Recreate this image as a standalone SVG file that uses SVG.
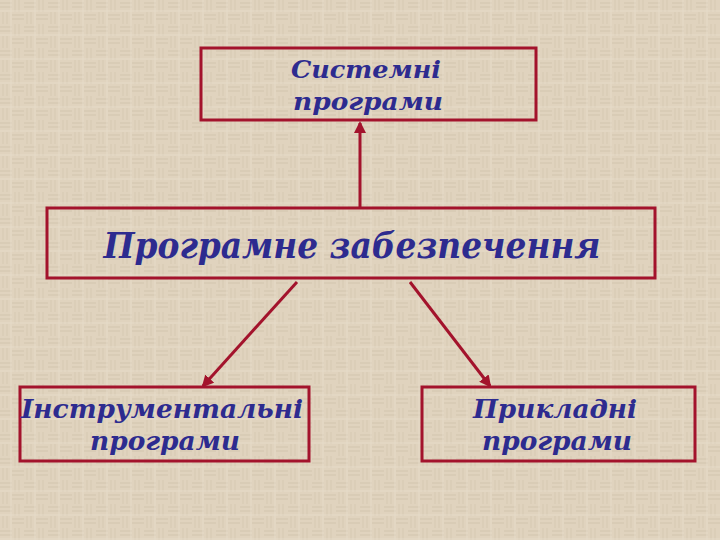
<svg xmlns="http://www.w3.org/2000/svg" width="720" height="540" viewBox="0 0 720 540">
<defs>
<pattern id="tex" width="24" height="24" patternUnits="userSpaceOnUse">
<rect width="24" height="24" fill="#E0D3BE"/>
<path d="M0 3H12M0 7H12M12 15H24M12 19H24" stroke="#D3C5AE" stroke-width="1"/>
<path d="M15 0V12M19 0V12M3 12V24M7 12V24" stroke="#D6C9B3" stroke-width="1"/>
<path d="M0 11H24M11 0V24" stroke="#E6DBC9" stroke-width="1"/>
</pattern>
<marker id="arr" markerWidth="12" markerHeight="12" refX="10" refY="6" orient="auto" markerUnits="userSpaceOnUse">
<path d="M0 0L12 6L0 12Z" fill="#A3132C"/>
</marker>
<style>
.box{fill:none;stroke:#A3132C;stroke-width:3}
.lbl{font-family:"DejaVu Serif","Liberation Serif",serif;font-weight:bold;font-style:italic;fill:#2D2B8F;text-anchor:middle}
.con{stroke:#A3132C;stroke-width:3;fill:none;marker-end:url(#arr)}
</style>
</defs>
<rect width="720" height="540" fill="url(#tex)"/>
<g id="connectors">
<line class="con" x1="360" y1="207" x2="360" y2="123"/>
<line class="con" x1="297" y1="282" x2="203" y2="386"/>
<line class="con" x1="410" y1="282" x2="490" y2="386"/>
</g>
<g id="system">
<rect class="box" x="201" y="48" width="335" height="72"/>
<text class="lbl" x="366" y="78" font-size="25" textLength="150" lengthAdjust="spacingAndGlyphs">Системні</text>
<text class="lbl" x="368" y="110" font-size="25" textLength="150" lengthAdjust="spacingAndGlyphs">програми</text>
</g>
<g id="software">
<rect class="box" x="47" y="208" width="608" height="70"/>
<text class="lbl" x="352" y="258" font-size="35" textLength="497" lengthAdjust="spacingAndGlyphs">Програмне забезпечення</text>
</g>
<g id="tools">
<rect class="box" x="20" y="387" width="289" height="74"/>
<text class="lbl" x="162" y="418" font-size="26" textLength="282" lengthAdjust="spacingAndGlyphs">Інструментальні</text>
<text class="lbl" x="165" y="450" font-size="26" textLength="150" lengthAdjust="spacingAndGlyphs">програми</text>
</g>
<g id="applied">
<rect class="box" x="422" y="387" width="273" height="74"/>
<text class="lbl" x="555" y="418" font-size="26" textLength="164" lengthAdjust="spacingAndGlyphs">Прикладні</text>
<text class="lbl" x="557" y="450" font-size="26" textLength="150" lengthAdjust="spacingAndGlyphs">програми</text>
</g>
</svg>
